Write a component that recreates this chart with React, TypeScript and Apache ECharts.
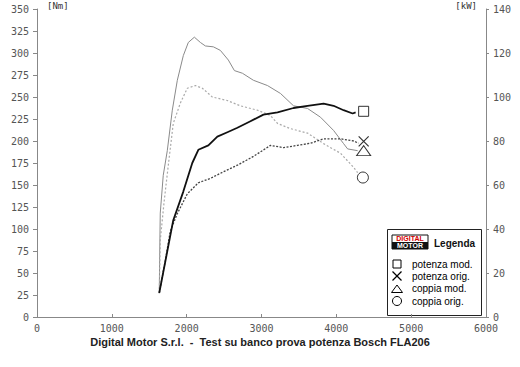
import React, { useEffect, useRef } from "react";
import * as echarts from "echarts";

const xTicks = [0, 1000, 2000, 3000, 4000, 5000, 6000];

const potenzaModRpm = [1634, 1821, 1955, 2075, 2156, 2290, 2410, 2544, 2678, 2852, 3026, 3214, 3428, 3615, 3830, 3963, 4097, 4218, 4258];
const potenzaModKw = [11, 44, 57, 70, 76, 78, 82, 84, 86, 89, 92, 93, 95, 96, 97, 96, 94, 92.5, 93];

const potenzaOrigRpm = [1634, 1714, 1781, 1875, 2009, 2156, 2316, 2490, 2678, 2892, 3120, 3294, 3481, 3656, 3830, 4057, 4231, 4298];
const potenzaOrigKw = [11, 25.5, 39, 47, 56, 61, 63, 66, 69, 73, 78, 77, 78, 79, 81, 81, 80, 79];

const coppiaModRpm = [1634, 1640, 1647, 1687, 1741, 1808, 1875, 1955, 2022, 2103, 2183, 2250, 2357, 2450, 2557, 2638, 2745, 2892, 3080, 3254, 3428, 3615, 3789, 3963, 4097, 4151, 4285];
const coppiaModNm = [27, 75, 118, 161, 189, 235, 269, 297, 312, 318, 312, 308, 307, 303, 292, 280, 277, 269, 263, 254, 240, 237, 227, 212, 197, 191, 189];

const coppiaOrigRpm = [1634, 1647, 1700, 1754, 1821, 1915, 2009, 2116, 2209, 2343, 2544, 2718, 2946, 3120, 3214, 3388, 3615, 3830, 4057, 4231, 4285];
const coppiaOrigNm = [27, 87, 132, 172, 220, 243, 260, 263, 260, 250, 246, 240, 235, 229, 220, 214, 209, 197, 186, 170, 164];

// end markers: [rpm, value]
const markerPotenzaMod = [4365, 93.5];
const markerPotenzaOrig = [4365, 79.8];
const markerCoppiaMod = [4365, 189];
const markerCoppiaOrig = [4355, 158.5];

const legendNames = ["potenza mod.", "potenza orig.", "coppia mod.", "coppia orig."];
const titleText = "Digital Motor S.r.l.  -  Test su banco prova potenza Bosch FLA206";
const unitLeft = "[Nm]";
const unitRight = "[kW]";

const zip = (xs: number[], ys: number[]) => xs.map((x, i) => [x, ys[i]]);

const X_PATH = "path://M0,0L10,10M10,0L0,10";

export default function App() {
  const ref = useRef<HTMLDivElement>(null);
  useEffect(() => {
    if (!ref.current) return;
    const chart = echarts.init(ref.current, null, { renderer: "svg" });
    const axisFont = { fontFamily: "DejaVu Sans Mono", fontSize: 10, color: "#555" };
    const rowY = [264, 276, 288.5, 301];
    const legendTexts = legendNames.map((n, i) => ({
      type: "text",
      style: { x: 412, y: rowY[i], text: n, fill: "#000", font: "10px 'Liberation Sans'", verticalAlign: "middle" },
    }));
    chart.setOption({
      animation: false,
      backgroundColor: "#fff",
      title: {
        text: titleText,
        left: "center",
        top: 331,
        textStyle: { fontFamily: "Liberation Sans", fontSize: 11, fontWeight: "bold", color: "#222" },
      },
      grid: { left: 37, right: 34, top: 9, bottom: 50 },
      xAxis: {
        type: "value",
        min: xTicks[0],
        max: xTicks[xTicks.length - 1],
        interval: 1000,
        splitLine: { show: false },
        axisLine: { lineStyle: { color: "#888" } },
        axisTick: { inside: true, length: 3, lineStyle: { color: "#888" } },
        axisLabel: { ...axisFont, margin: 6, formatter: (v: number) => String(v) },
      },
      yAxis: [
        {
          type: "value",
          min: 0,
          max: 350,
          interval: 25,
          splitLine: { show: false },
          axisLine: { show: true, lineStyle: { color: "#888" } },
          axisTick: { show: true, length: 4, lineStyle: { color: "#888" } },
          axisLabel: { ...axisFont, margin: 8 },
        },
        {
          type: "value",
          min: 0,
          max: 140,
          interval: 20,
          position: "right",
          splitLine: { show: false },
          axisLine: { show: true, lineStyle: { color: "#888" } },
          axisTick: { show: true, length: 3, lineStyle: { color: "#888" } },
          axisLabel: { ...axisFont, margin: 7 },
        },
      ],
      series: [
        {
          name: "coppia mod.",
          type: "line",
          yAxisIndex: 0,
          data: zip(coppiaModRpm, coppiaModNm),
          symbol: "none",
          lineStyle: { color: "#8a8a8a", width: 1 },
        },
        {
          name: "coppia orig.",
          type: "line",
          yAxisIndex: 0,
          data: zip(coppiaOrigRpm, coppiaOrigNm),
          symbol: "none",
          lineStyle: { color: "#aaa", width: 1.2, type: [2, 2] },
        },
        {
          name: "potenza orig.",
          type: "line",
          yAxisIndex: 1,
          data: zip(potenzaOrigRpm, potenzaOrigKw),
          symbol: "none",
          lineStyle: { color: "#444", width: 1.3, type: [2, 1.5] },
        },
        {
          name: "potenza mod.",
          type: "line",
          yAxisIndex: 1,
          data: zip(potenzaModRpm, potenzaModKw),
          symbol: "none",
          lineStyle: { color: "#111", width: 1.8 },
        },
        {
          name: "markers kW",
          type: "scatter",
          yAxisIndex: 1,
          symbolSize: 10,
          itemStyle: { color: "#fff", borderColor: "#000", borderWidth: 1 },
          data: [
            { value: markerPotenzaMod, symbol: "rect" },
            { value: markerPotenzaOrig, symbol: X_PATH, itemStyle: { color: "none", borderColor: "#000", borderWidth: 1.2 } },
          ],
        },
        {
          name: "markers Nm",
          type: "scatter",
          yAxisIndex: 0,
          symbolSize: 11,
          itemStyle: { color: "#fff", borderColor: "#000", borderWidth: 1 },
          data: [
            { value: markerCoppiaMod, symbol: "triangle", symbolSize: [14, 10] },
            { value: markerCoppiaOrig, symbol: "circle" },
          ],
        },
      ],
      graphic: [
        { type: "text", style: { x: 47, y: 6, text: unitLeft, fill: "#333", font: "9px 'DejaVu Sans Mono'", verticalAlign: "middle" } },
        { type: "text", style: { x: 477, y: 6, text: unitRight, fill: "#333", font: "9px 'DejaVu Sans Mono'", align: "right", verticalAlign: "middle" } },
        {
          type: "group",
          z: 100,
          children: [
            { type: "rect", shape: { x: 387.5, y: 229.5, width: 94, height: 86 }, style: { fill: "#fff", stroke: "#222", lineWidth: 1 } },
            { type: "rect", shape: { x: 392, y: 235, width: 36, height: 14 }, style: { fill: "#fff", stroke: "#111", lineWidth: 1 } },
            { type: "rect", shape: { x: 392, y: 242, width: 36, height: 7 }, style: { fill: "#111" } },
            { type: "text", style: { x: 410, y: 238.8, text: "DIGITAL", fill: "#d40000", font: "bold 7px 'Liberation Sans'", align: "center", verticalAlign: "middle" } },
            { type: "text", style: { x: 410, y: 245.8, text: "MOTOR", fill: "#fff", font: "bold 7px 'Liberation Sans'", align: "center", verticalAlign: "middle" } },
            { type: "text", style: { x: 434, y: 243, text: "Legenda", fill: "#111", font: "bold 10px 'Liberation Sans'", verticalAlign: "middle" } },
            { type: "rect", shape: { x: 393, y: 260, width: 8, height: 8 }, style: { fill: "none", stroke: "#000", lineWidth: 1 } },
            { type: "line", shape: { x1: 392.5, y1: 271.5, x2: 401.5, y2: 280.5 }, style: { stroke: "#000", lineWidth: 1.2 } },
            { type: "line", shape: { x1: 401.5, y1: 271.5, x2: 392.5, y2: 280.5 }, style: { stroke: "#000", lineWidth: 1.2 } },
            { type: "polygon", shape: { points: [[391.5, 292.5], [402.5, 292.5], [397, 285]] }, style: { fill: "none", stroke: "#000", lineWidth: 1 } },
            { type: "circle", shape: { cx: 397, cy: 301, r: 4.5 }, style: { fill: "none", stroke: "#000", lineWidth: 1 } },
            ...legendTexts,
          ],
        },
      ],
    });
    return () => chart.dispose();
  }, []);
  return <div ref={ref} style={{ position: "absolute", left: 0, top: 0, width: 520, height: 367 }} />;
}
